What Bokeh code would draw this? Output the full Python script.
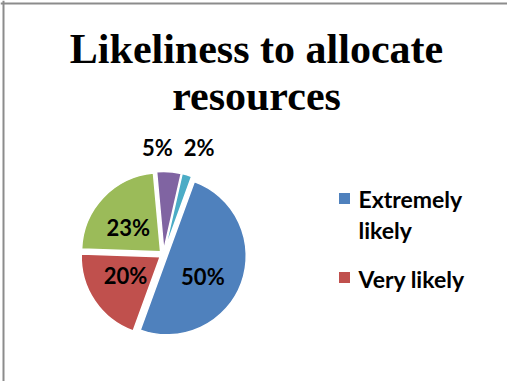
import math
from bokeh.plotting import figure
from bokeh.models import Range1d, Span
from bokeh.core.properties import value
from bokeh.embed import file_html
from bokeh.resources import INLINE

# ---- data ----
categories = ["Extremely likely", "Very likely", "Somewhat likely", "Not very likely", "Not at all likely"]
values = [50, 20, 23, 5, 2]
title_lines = ["Likeliness to allocate", "resources"]
legend_shown = 2  # reference legend only shows first two entries

# ---- styling / layout ----
W, H = 507, 381
colors = ["#4F81BD", "#C0504D", "#9BBB59", "#8064A2", "#4BACC6"]
cx_px, cy_px = 163, 254
R = 79
explode = 4
first_angle = 20  # degrees clockwise from 12 o'clock

p = figure(width=W, height=H, x_range=Range1d(0, W), y_range=Range1d(0, H),
           x_axis_type=None, y_axis_type=None, toolbar_location=None,
           output_backend="svg", min_border=0)
p.grid.visible = False
p.outline_line_color = None
p.background_fill_color = "white"
p.border_fill_color = "white"

def Y(ypx):
    return H - ypx

# border (left and top only, as in reference)
p.add_layout(Span(location=3, dimension="height", line_color="#8c8c8c", line_width=2))
p.add_layout(Span(location=Y(3), dimension="width", line_color="#8c8c8c", line_width=2))

# pie
total = float(sum(values))
xs, ys, starts, ends, mids = [], [], [], [], []
a = first_angle
for v in values:
    span = 360.0 * v / total
    a0, a1 = a, a + span
    mid = (a0 + a1) / 2
    mids.append(mid)
    ox = explode * math.sin(math.radians(mid))
    oy = explode * math.cos(math.radians(mid))
    xs.append(cx_px + ox)
    ys.append(Y(cy_px) + oy)
    starts.append(math.radians(90 - a1))
    ends.append(math.radians(90 - a0))
    a = a1

p.wedge(x=xs, y=ys, radius=R, start_angle=starts, end_angle=ends,
        fill_color=colors, line_color="white", line_width=1.5)

# data labels
label_font = value("Lato")
lx, ly, lt = [], [], []
nudge = [9, 5, -6, -7, 2]
rfac = [0.57, 0.55, 0.56, 1.36, 1.43]
for i, v in enumerate(values):
    ang = math.radians(mids[i] + nudge[i])
    rr = rfac[i] * R
    lx.append(cx_px + rr * math.sin(ang))
    ly.append(Y(cy_px) + rr * math.cos(ang))
    lt.append(f"{v}%")
p.text(x=lx, y=ly, text=lt, text_font=label_font, text_font_style="bold",
       text_font_size="22px", text_color="black", text_align="center",
       text_baseline="middle")

# title
p.text(x=[256, 256], y=[Y(48), Y(95)], text=title_lines,
       text_font=value("Liberation Serif"), text_font_style="bold",
       text_font_size="42px", text_color="black", text_align="center",
       text_baseline="alphabetic")

# legend (manual)
leg_sq_x = 344
leg_rows_px = [198, 277]
p.rect(x=[leg_sq_x] * legend_shown, y=[Y(r) for r in leg_rows_px[:legend_shown]],
       width=11, height=11, fill_color=colors[:legend_shown], line_color=None)
leg_texts = ["Extremely", "likely", "Very likely"]
leg_text_y = [198, 229, 278]
p.text(x=[358] * 3, y=[Y(t) for t in leg_text_y], text=leg_texts,
       text_font=label_font, text_font_style="bold", text_font_size="23px",
       text_color="black", text_align="left", text_baseline="middle")

open("out.html", "w").write(file_html(p, INLINE))
